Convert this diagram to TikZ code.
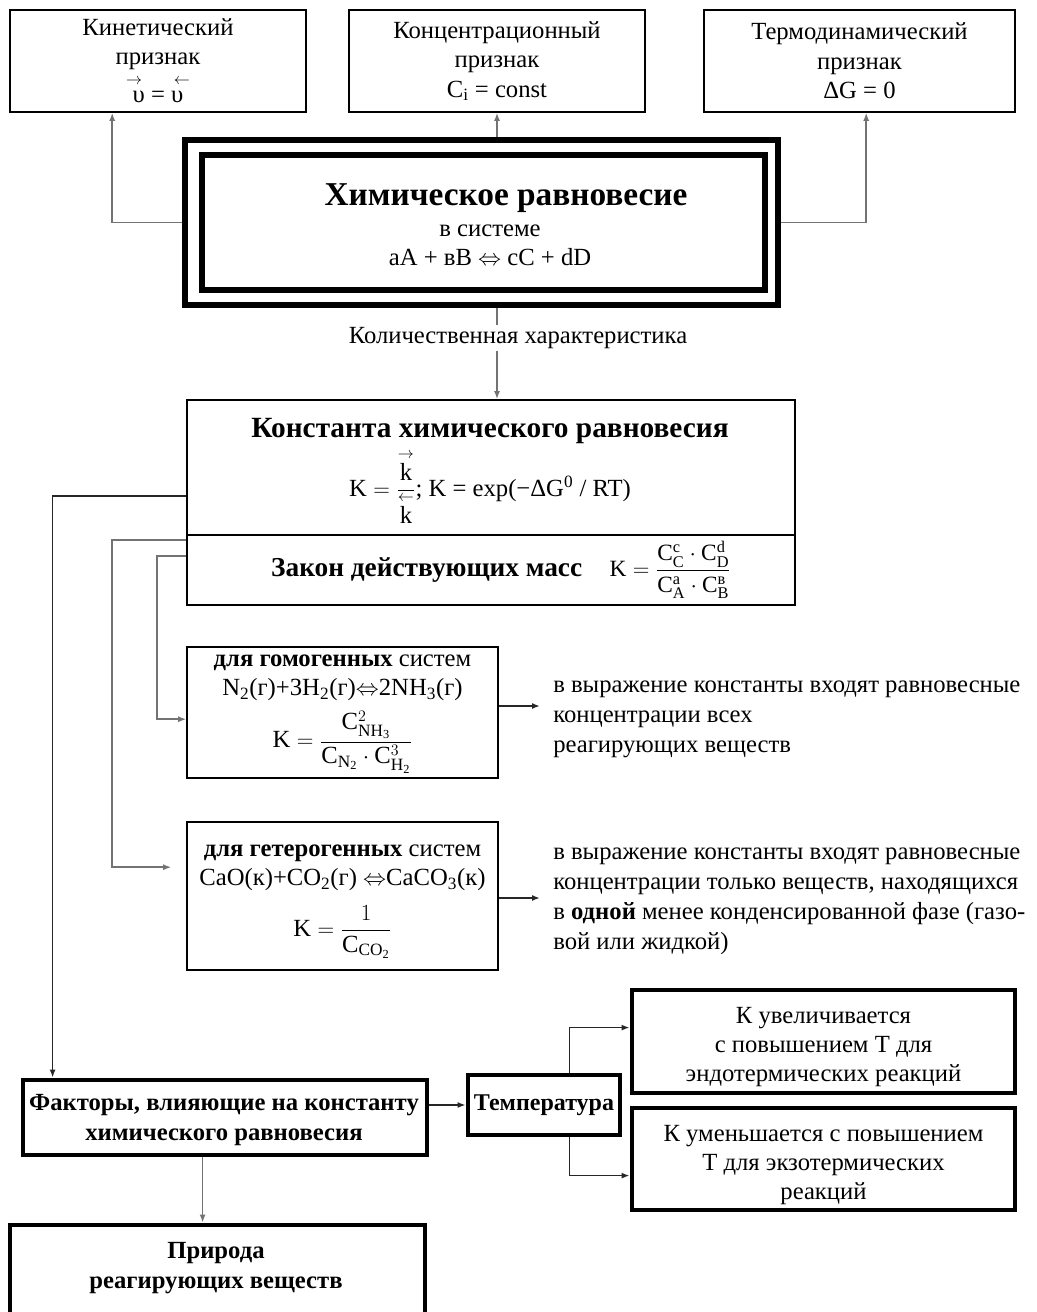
\documentclass[tikz,border=0pt]{standalone}
\usepackage{amsmath}
\usepackage{fontspec}
\setmainfont{Liberation Serif}
\usetikzlibrary{arrows.meta,calc}
\newcommand\mr[1]{\mathrm{#1}}
\newcommand\arrowpair{{\fontsize{13}{13}\selectfont\makebox[16pt]{$\rightarrow$}\hspace{20pt}\makebox[16pt]{$\leftarrow$}}}
\begin{document}
\begin{tikzpicture}[x=0.75pt,y=-0.75pt,
  txt/.style={inner sep=0pt, align=center, font=\fontsize{18.5}{22}\selectfont},
  box/.style={draw, line width=1.2pt, inner sep=0pt, align=center, font=\fontsize{18.5}{22}\selectfont},
  heavybox/.style={box, line width=3.6pt},
  link/.style={draw=black!55, line width=1.3pt, -{Latex[length=6pt,width=4.5pt]}},
  darklink/.style={draw=black!85, line width=1.3pt, -{Latex[length=6pt,width=4.5pt]}},
]
\useasboundingbox[fill=white] (0,0) rectangle (1037,1312);

% --- three criteria of equilibrium
\node[box, minimum width=222pt, minimum height=76.5pt] (kin) at (158,61) {};
\node[txt] (kinT) at (158,44) {Кинетический\\признак};
\node[txt] (kinA) at (158,82) {\arrowpair};
\node[txt] (kinV) at (158,97) {υ = υ};
\node[box, minimum width=222pt, minimum height=76.5pt] (conc) at (497,61)
  {Концентрационный\\признак\\C\textsubscript{i} = const};
\node[box, minimum width=233.25pt, minimum height=76.5pt] (thermo) at (859.5,61)
  {Термодинамический\\признак\\ΔG = 0};

% --- central double frame
\node[draw, line width=5pt, minimum width=444.75pt, minimum height=123.75pt] (outer) at (481.5,222.5) {};
\node[draw, line width=4.5pt, minimum width=422.25pt, minimum height=101.25pt] (inner) at (483.5,222.5) {};
\node[txt, font=\fontsize{25}{30}\selectfont\bfseries] (mainT) at (506,198) {Химическое равновесие};
\node[txt] (mainS) at (490,245) {в системе\\aA + вB $\Leftrightarrow$ cC + dD};

\draw[link] (outer.west) -| ($(kin.south west)+(103,0)$);
\draw[link] (outer.north -| conc.south) -- (conc.south);
\draw[link] (outer.east) -| ($(thermo.south west)+(163,0)$);

% --- equilibrium constant
\node[box, minimum width=456pt, minimum height=101.25pt] (kconst) at (491,467.5) {};
\node[box, minimum width=456pt, minimum height=52.5pt] (kmass) at (491,570) {};
\node[txt, font=\fontsize{22}{26}\selectfont\bfseries] (kconstT) at (490,431)
  {Константа химического равновесия};
\node[txt] (kconstF) at (490,487)
  {$\mr{K}=\dfrac{\overset{\rightarrow}{\mr{k}}}{\overset{\leftarrow}{\mr{k}}}$; K = exp(−ΔG\textsuperscript{0} / RT)};
\node[txt, font=\fontsize{20.5}{24}\selectfont] (kmassT) at (501,570)
  {\textbf{Закон действующих масс}\quad
   {\fontsize{17.5}{20}\selectfont$\mr{K}=\dfrac{\mr{C}_{\mr{C}}^{\mr{c}}\cdot\mr{C}_{\mr{D}}^{\mr{d}}}{\mr{C}_{\mr{A}}^{\mr{a}}\cdot\mr{C}_{\mr{B}}^{\text{в}}}$}};

\coordinate (down) at (outer.south -| conc.south);
\draw[link] (down) -- (down |- kconst.north);
\node[txt, fill=white, inner sep=2pt] (qty) at (518,338) {Количественная характеристика};

% --- homogeneous and heterogeneous systems
\node[box, minimum width=233.25pt, minimum height=98.25pt] (homo) at (342.5,712.5) {};
\node[txt] (homoT1) at (342.5,678)
  {\textbf{для гомогенных} систем\\
   N\textsubscript{2}(г)+3H\textsubscript{2}(г)$\Leftrightarrow$2NH\textsubscript{3}(г)};
\node[txt] (homoF) at (342.5,742)
  {$\mr{K}=\dfrac{\mr{C}^2_{\mr{NH_3}}}{\mr{C}_{\mr{N_2}}\cdot\mr{C}^3_{\mr{H_2}}}$};
\node[box, minimum width=233.25pt, minimum height=111pt] (hetero) at (342.5,896) {};
\node[txt] (heteroT1) at (342.5,868)
  {\textbf{для гетерогенных} систем\\
   CaO(к)+CO\textsubscript{2}(г) $\Leftrightarrow$CaCO\textsubscript{3}(к)};
\node[txt] (heteroF) at (342.5,932)
  {$\mr{K}=\dfrac{1}{\mr{C}_{\mr{CO_2}}}$};

\node[txt, anchor=north west, align=left, font=\fontsize{18.5}{22.5}\selectfont] (homoT) at (553,681)
  {в выражение константы входят равновесные\\концентрации всех\\реагирующих веществ};
\node[txt, anchor=north west, align=left, font=\fontsize{18.5}{22.5}\selectfont] (heteroT) at (553,848)
  {в выражение константы входят равновесные\\концентрации только веществ, находящихся\\
   в \textbf{одной} менее конденсированной фазе (газо-\\вой или жидкой)};

\coordinate (homoEnd) at (540,706);
\coordinate (heteroEnd) at (540,898);
\draw[darklink] (homo.east |- homoEnd) -- (homoEnd);
\draw[darklink] (hetero.east |- heteroEnd) -- (heteroEnd);

% --- factors
\node[heavybox, minimum width=303pt, minimum height=56.25pt] (factors) at (225,1117.5) {};
\node[txt, font=\fontsize{18.5}{22}\selectfont\bfseries] (factorsT) at (224,1120)
  {Факторы, влияющие на константу\\химического равновесия};
\node[heavybox, minimum width=114pt, minimum height=45pt, font=\fontsize{18}{22}\selectfont\bfseries] (temp) at (544,1105) {Температура};
\node[heavybox, minimum width=287.25pt, minimum height=77.25pt] (inc) at (823.5,1041.5) {};
\node[txt] (incT) at (823.5,1047)
  {К увеличивается\\с повышением Т для\\эндотермических реакций};
\node[heavybox, minimum width=287.25pt, minimum height=76.5pt] (dec) at (823.5,1159) {};
\node[txt] (decT) at (823.5,1165)
  {К уменьшается с повышением\\Т для экзотермических\\реакций};
\node[heavybox, minimum width=311.25pt, minimum height=71.25pt] (nature) at (217.5,1272.5) {};
\node[txt, font=\fontsize{18.5}{22}\selectfont\bfseries] (natureT) at (216,1268)
  {Природа\\реагирующих веществ};

% --- links from the constant to the lower blocks
\draw[darklink] ($(kconst.north west)+(0,97)$) -| ($(factors.north west)+(32,0)$);
\draw[link] ($(kconst.north west)+(0,141)$) -- ++(-74,0) |- ($(hetero.north west)+(-15,46)$);
\draw[link] ($(kconst.north west)+(0,157)$) -- ++(-29,0) |- ($(homo.north west)+(0,73)$);

\draw[darklink, line width=2pt] (factors.east |- temp.west) -- (temp.west);
\draw[darklink] ($(temp.north west)+(104,0)$) |- ($(inc.north west)+(0,40)$);
\draw[darklink] ($(temp.south west)+(104,0)$) |- ($(dec.north west)+(0,70)$);
\coordinate (fp) at ($(factors.south west)+(182,0)$);
\draw[link] (fp) -- (fp |- nature.north);
\end{tikzpicture}
\end{document}
